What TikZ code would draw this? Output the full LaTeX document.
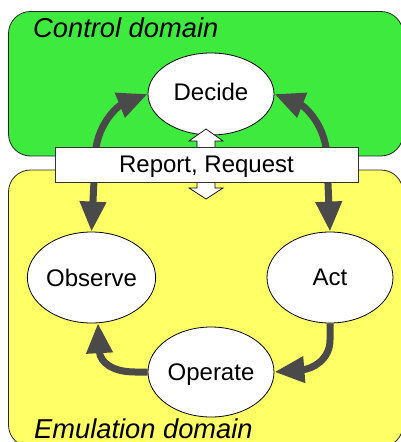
\documentclass[tikz,border=0pt]{standalone}
\usepackage{fontspec}
\setmainfont{Liberation Sans}
\usetikzlibrary{shapes.geometric,arrows.meta}
\definecolor{ctrlgreen}{RGB}{62,234,62}
\definecolor{emuyellow}{RGB}{255,255,102}
\definecolor{arrowgray}{RGB}{74,74,74}
\tikzset{
  domainbox/.style={draw=black!85, line width=0.8pt, rounded corners=22pt},
  stage/.style={ellipse, draw=black, line width=0.8pt, fill=white, inner sep=0pt,
    minimum width=126pt, text depth=0pt, font=\fontsize{24}{28}\selectfont},
  conn/.style={draw=arrowgray, line width=7pt,
    {Triangle[length=30pt,width=25pt]}-{Triangle[length=30pt,width=25pt]}},
  connone/.style={draw=arrowgray, line width=7pt, -{Triangle[length=30pt,width=25pt]}},
  domlabel/.style={anchor=base west, inner sep=0pt, font=\fontsize{27.3}{31}\selectfont\itshape},
  reportbox/.style={draw=black!80, line width=0.8pt, fill=white, minimum width=303pt,
    minimum height=35pt, inner sep=0pt, text depth=0pt, font=\fontsize{24}{28}\selectfont},
  blockarrow/.style={draw=black, line width=0.7pt, fill=white}
}
\begin{document}
\begin{tikzpicture}[x=1pt,y=-1pt]
\useasboundingbox (0,0) rectangle (401,442);
\fill[white] (0,0) rectangle (401,442);
% domains
\draw[domainbox, fill=ctrlgreen] (8.5,11.5) rectangle (403,156);
\draw[domainbox, fill=emuyellow] (8.5,170) rectangle (403,447);
\node[domlabel] (ctrl) at (33,37.5) {Control domain};
\node[domlabel] (emu) at (34,438) {Emulation domain};
% stages
\node[stage, minimum height=82pt] (decide) at (211,94)
  {\raisebox{4pt}[\dimexpr\height+4pt\relax][4pt]{Decide}};
\node[stage, minimum height=91pt] (observe) at (91.5,277.5) {Observe};
\node[stage, minimum height=91pt] (act) at (330,277.5) {Act};
\node[stage, minimum height=90pt] (operate) at (211,372) {Operate};
% connectors
\draw[conn] (observe.north) -- (95,160) .. controls (95,125) and (118,106) .. (decide.west);
\draw[conn] (act.north) -- (327,160) .. controls (327,125) and (304,106) .. (decide.east);
\draw[connone] (act.south) -- (330,340) .. controls (330,360) and (312,369) .. (operate.east);
\draw[connone] (operate.west) -- (135,372) .. controls (112,372) and (100,362) .. (observe.-82);
% report / request block arrow
\draw[blockarrow] (206,129) -- (223,141) -- (215,141) -- (215,188) -- (223,188) -- (206,199)
  -- (189,188) -- (197,188) -- (197,141) -- (189,141) -- cycle;
\node[reportbox] (report) at (206.5,164.5) {Report, Request};
\end{tikzpicture}
\end{document}
